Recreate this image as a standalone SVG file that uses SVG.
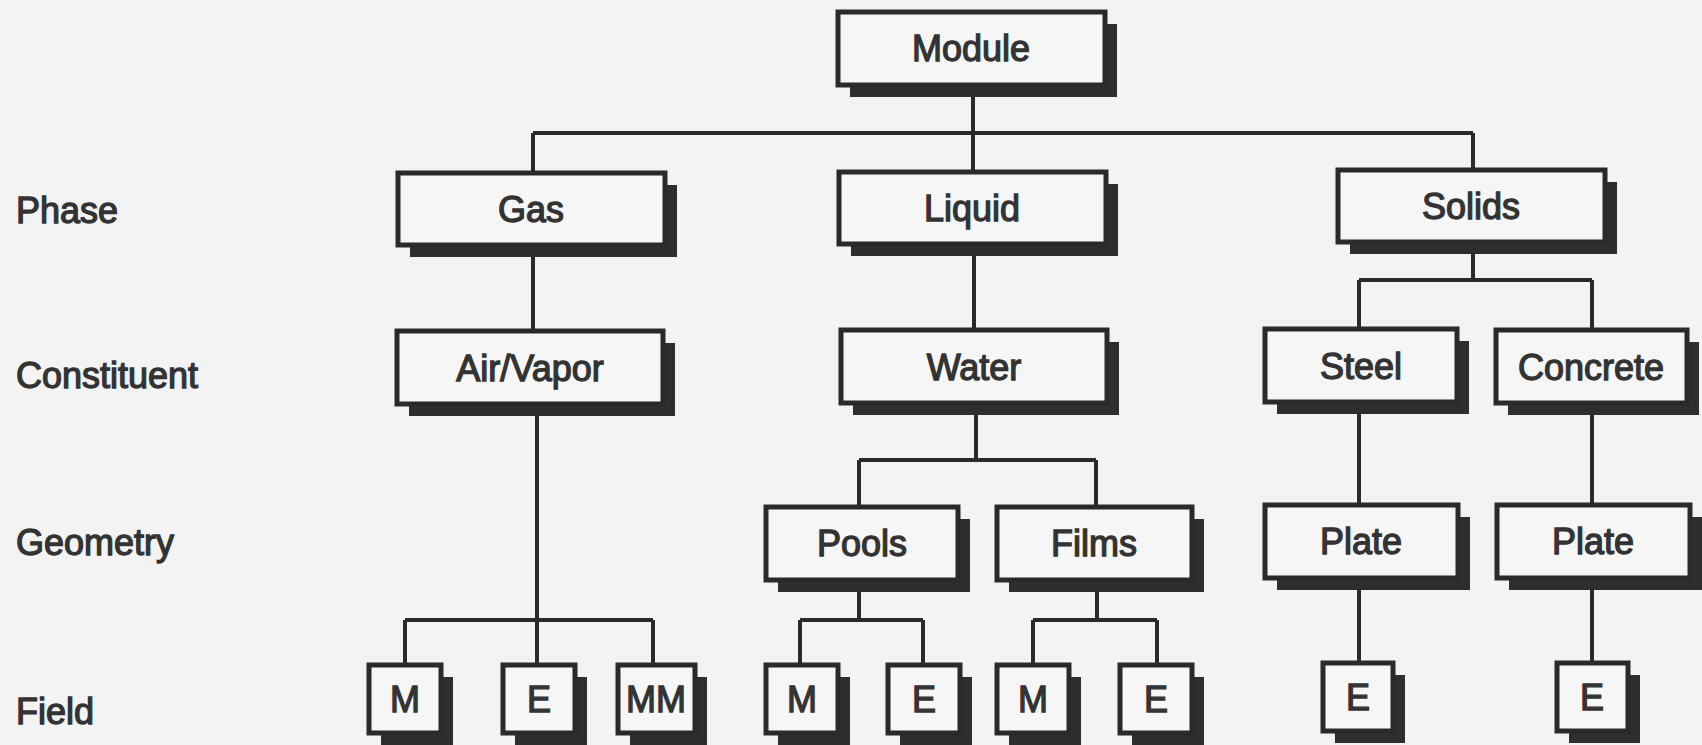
<svg xmlns="http://www.w3.org/2000/svg" width="1702" height="745" viewBox="0 0 1702 745">
<style>
.bg{fill:#f3f3f3}
.sh{fill:#2e2e2e}
.bx{fill:#f6f6f6;stroke:#2a2a2a;stroke-width:5}
.t{font-family:"Liberation Sans",Arial,sans-serif;font-size:36px;fill:#333;stroke:#333;stroke-width:1.3;text-anchor:middle}
.lab{font-family:"Liberation Sans",Arial,sans-serif;font-size:36px;fill:#333;stroke:#333;stroke-width:1.3}
.c{fill:none;stroke:#2a2a2a;stroke-width:4}
</style>
<rect class="bg" x="0" y="0" width="1702" height="745"/>
<g id="labels">
<text class="lab" x="16" y="223">Phase</text>
<text class="lab" x="16" y="388">Constituent</text>
<text class="lab" x="16" y="555">Geometry</text>
<text class="lab" x="16" y="724">Field</text>
</g>
<g id="connectors">
<path class="c" d="M973 85V133M533 133H1473M533 133V173M973 133V172M1473 133V170"/>
<path class="c" d="M533 245V331"/>
<path class="c" d="M974 243V330"/>
<path class="c" d="M1473 242V280M1359 280H1592M1359 280V329M1592 280V330"/>
<path class="c" d="M537 404V620M405 620H653M405 620V665M537 620V665M653 620V665"/>
<path class="c" d="M976 403V460M859 460H1096M859 460V507M1096 460V507"/>
<path class="c" d="M859 580V620M800 620H923M800 620V665M923 620V665"/>
<path class="c" d="M1097 580V620M1033 620H1157M1033 620V665M1157 620V665"/>
<path class="c" d="M1359 402V505M1359 578V663"/>
<path class="c" d="M1592 403V505M1592 578V663"/>
</g>
<g id="module"><rect class="sh" x="850" y="24" width="267" height="73"/><rect class="bx" x="838" y="12" width="267" height="73"/><text class="t" x="971" y="61">Module</text></g>
<g id="gas"><rect class="sh" x="410" y="185" width="267" height="72"/><rect class="bx" x="398" y="173" width="267" height="72"/><text class="t" x="531" y="222">Gas</text></g>
<g id="liquid"><rect class="sh" x="851" y="184" width="267" height="72"/><rect class="bx" x="839" y="172" width="267" height="72"/><text class="t" x="972" y="221">Liquid</text></g>
<g id="solids"><rect class="sh" x="1350" y="182" width="267" height="72"/><rect class="bx" x="1338" y="170" width="267" height="72"/><text class="t" x="1471" y="219">Solids</text></g>
<g id="airvapor"><rect class="sh" x="409" y="343" width="266" height="73"/><rect class="bx" x="397" y="331" width="266" height="73"/><text class="t" x="530" y="381">Air/Vapor</text></g>
<g id="water"><rect class="sh" x="853" y="342" width="266" height="73"/><rect class="bx" x="841" y="330" width="266" height="73"/><text class="t" x="974" y="380">Water</text></g>
<g id="steel"><rect class="sh" x="1277" y="341" width="192" height="73"/><rect class="bx" x="1265" y="329" width="192" height="73"/><text class="t" x="1361" y="379">Steel</text></g>
<g id="concrete"><rect class="sh" x="1508" y="342" width="191" height="73"/><rect class="bx" x="1496" y="330" width="191" height="73"/><text class="t" x="1591" y="380">Concrete</text></g>
<g id="pools"><rect class="sh" x="778" y="519" width="192" height="73"/><rect class="bx" x="766" y="507" width="192" height="73"/><text class="t" x="862" y="556">Pools</text></g>
<g id="films"><rect class="sh" x="1009" y="519" width="195" height="73"/><rect class="bx" x="997" y="507" width="195" height="73"/><text class="t" x="1094" y="556">Films</text></g>
<g id="plate1"><rect class="sh" x="1277" y="517" width="193" height="73"/><rect class="bx" x="1265" y="505" width="193" height="73"/><text class="t" x="1361" y="554">Plate</text></g>
<g id="plate2"><rect class="sh" x="1509" y="517" width="193" height="73"/><rect class="bx" x="1497" y="505" width="193" height="73"/><text class="t" x="1593" y="554">Plate</text></g>
<g id="f-gas-m"><rect class="sh" x="381" y="677" width="72" height="68"/><rect class="bx" x="369" y="665" width="72" height="68"/><text class="t" x="405" y="712">M</text></g>
<g id="f-gas-e"><rect class="sh" x="515" y="677" width="72" height="68"/><rect class="bx" x="503" y="665" width="72" height="68"/><text class="t" x="539" y="712">E</text></g>
<g id="f-gas-mm"><rect class="sh" x="630" y="677" width="77" height="68"/><rect class="bx" x="618" y="665" width="77" height="68"/><text class="t" x="656" y="712">MM</text></g>
<g id="f-pools-m"><rect class="sh" x="778" y="677" width="72" height="68"/><rect class="bx" x="766" y="665" width="72" height="68"/><text class="t" x="802" y="712">M</text></g>
<g id="f-pools-e"><rect class="sh" x="900" y="677" width="72" height="68"/><rect class="bx" x="888" y="665" width="72" height="68"/><text class="t" x="924" y="712">E</text></g>
<g id="f-films-m"><rect class="sh" x="1009" y="677" width="72" height="68"/><rect class="bx" x="997" y="665" width="72" height="68"/><text class="t" x="1033" y="712">M</text></g>
<g id="f-films-e"><rect class="sh" x="1132" y="677" width="72" height="68"/><rect class="bx" x="1120" y="665" width="72" height="68"/><text class="t" x="1156" y="712">E</text></g>
<g id="f-steel-e"><rect class="sh" x="1335" y="675" width="70" height="68"/><rect class="bx" x="1323" y="663" width="70" height="68"/><text class="t" x="1358" y="710">E</text></g>
<g id="f-concrete-e"><rect class="sh" x="1569" y="675" width="71" height="68"/><rect class="bx" x="1557" y="663" width="71" height="68"/><text class="t" x="1592" y="710">E</text></g>
</svg>
